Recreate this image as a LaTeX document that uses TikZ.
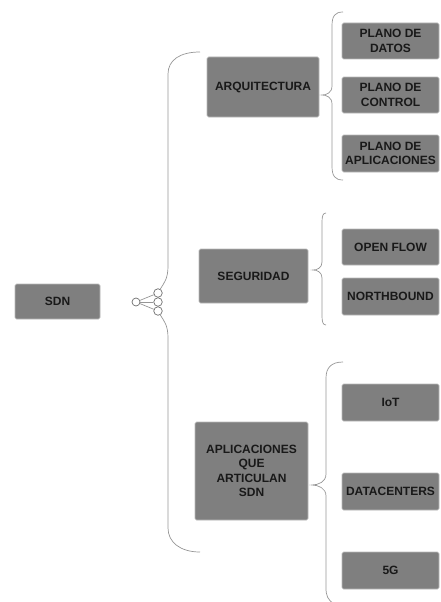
\documentclass[tikz,border=0pt]{standalone}
\usepackage{fontspec}
\setmainfont{Liberation Sans}
\definecolor{boxline}{RGB}{185,185,185}
\definecolor{boxfill}{RGB}{127,127,127}
\definecolor{boxtext}{RGB}{25,25,25}
\definecolor{braceline}{RGB}{150,150,150}
\definecolor{dotline}{RGB}{110,110,110}
\begin{document}
\begin{tikzpicture}[x=1pt,y=-1pt,
  box/.style={draw=boxline, line width=0.6pt, fill=boxfill, rounded corners=1.5pt,
    inner sep=0pt, align=center, text=boxtext,
    font=\fontsize{12}{14.5}\selectfont\bfseries},
  brc/.style={draw=braceline, line width=0.7pt},
  dot/.style={circle, draw=dotline, line width=0.7pt, fill=white, minimum size=8.5pt, inner sep=0pt}]
\useasboundingbox (0,0) rectangle (440,602);

% main boxes
\node[box, minimum width=85pt, minimum height=35pt] (sdn) at (57.5,301.5) {SDN};
\node[box, minimum width=112pt, minimum height=60pt] (arq) at (263,87) {ARQUITECTURA};
\node[box, minimum width=109pt, minimum height=54pt] (seg) at (253.5,276) {SEGURIDAD};
\node[box, minimum width=113pt, minimum height=98pt] (app) at (251.5,471) {APLICACIONES\\QUE\\ARTICULAN\\SDN};

% leaf boxes
\node[box, minimum width=97pt, minimum height=36pt] (pd) at (390.5,41) {PLANO DE\\DATOS};
\node[box, minimum width=97pt, minimum height=36pt] (pc) at (390.5,95) {PLANO DE\\CONTROL};
\node[box, minimum width=97pt, minimum height=37pt] (pa) at (390.5,153.5) {PLANO DE\\APLICACIONES};
\node[box, minimum width=97pt, minimum height=36pt] (of) at (390.5,247) {OPEN FLOW};
\node[box, minimum width=97pt, minimum height=37pt] (nb) at (390.5,296.5) {NORTHBOUND};
\node[box, minimum width=97pt, minimum height=37pt] (iot) at (390.5,402.5) {IoT};
\node[box, minimum width=97pt, minimum height=37pt] (dc) at (390.5,491.5) {DATACENTERS};
\node[box, minimum width=97pt, minimum height=37pt] (g5) at (390.5,570.5) {5G};

% connector circles
\node[dot, minimum size=8pt] (c0) at (136,302) {};
\node[dot] (c1) at (158,293) {};
\node[dot] (c2) at (158,302) {};
\node[dot] (c3) at (158,311) {};
\draw[brc] (c0) -- (c1);
\draw[brc] (c0) -- (c2);
\draw[brc] (c0) -- (c3);

% big left brace
\draw[brc] (c1.60) .. controls (164,283) and (168,279) .. (168,266) -- (168,74)
  .. controls (168,60) and (180,52) .. (200,52);
\draw[brc] (c3.-60) .. controls (164,321) and (168,325) .. (168,338) -- (168,528)
  .. controls (168,542) and (180,552) .. (200,552);

% brace for ARQUITECTURA
\draw[brc] (343,12) .. controls (335,12) and (332,16) .. (332,26) -- (332,86)
  .. controls (332,93) and (326,95) .. (322,95)
  .. controls (326,95) and (332,97) .. (332,104) -- (332,166)
  .. controls (332,176) and (335,180) .. (343,180);

% brace for SEGURIDAD
\draw[brc] (326,213) .. controls (323,213) and (322,216) .. (322,222) -- (322,262)
  .. controls (322,268) and (317,270) .. (313,270)
  .. controls (317,270) and (322,272) .. (322,278) -- (322,316)
  .. controls (322,322) and (323,325) .. (326,325);

% brace for APLICACIONES
\draw[brc] (343,362) .. controls (331,362) and (326,368) .. (326,378) -- (326,474)
  .. controls (326,482) and (318,485) .. (312,485)
  .. controls (318,485) and (326,488) .. (326,496) -- (326,588)
  .. controls (326,596) and (328,600) .. (334,604);
\end{tikzpicture}
\end{document}
